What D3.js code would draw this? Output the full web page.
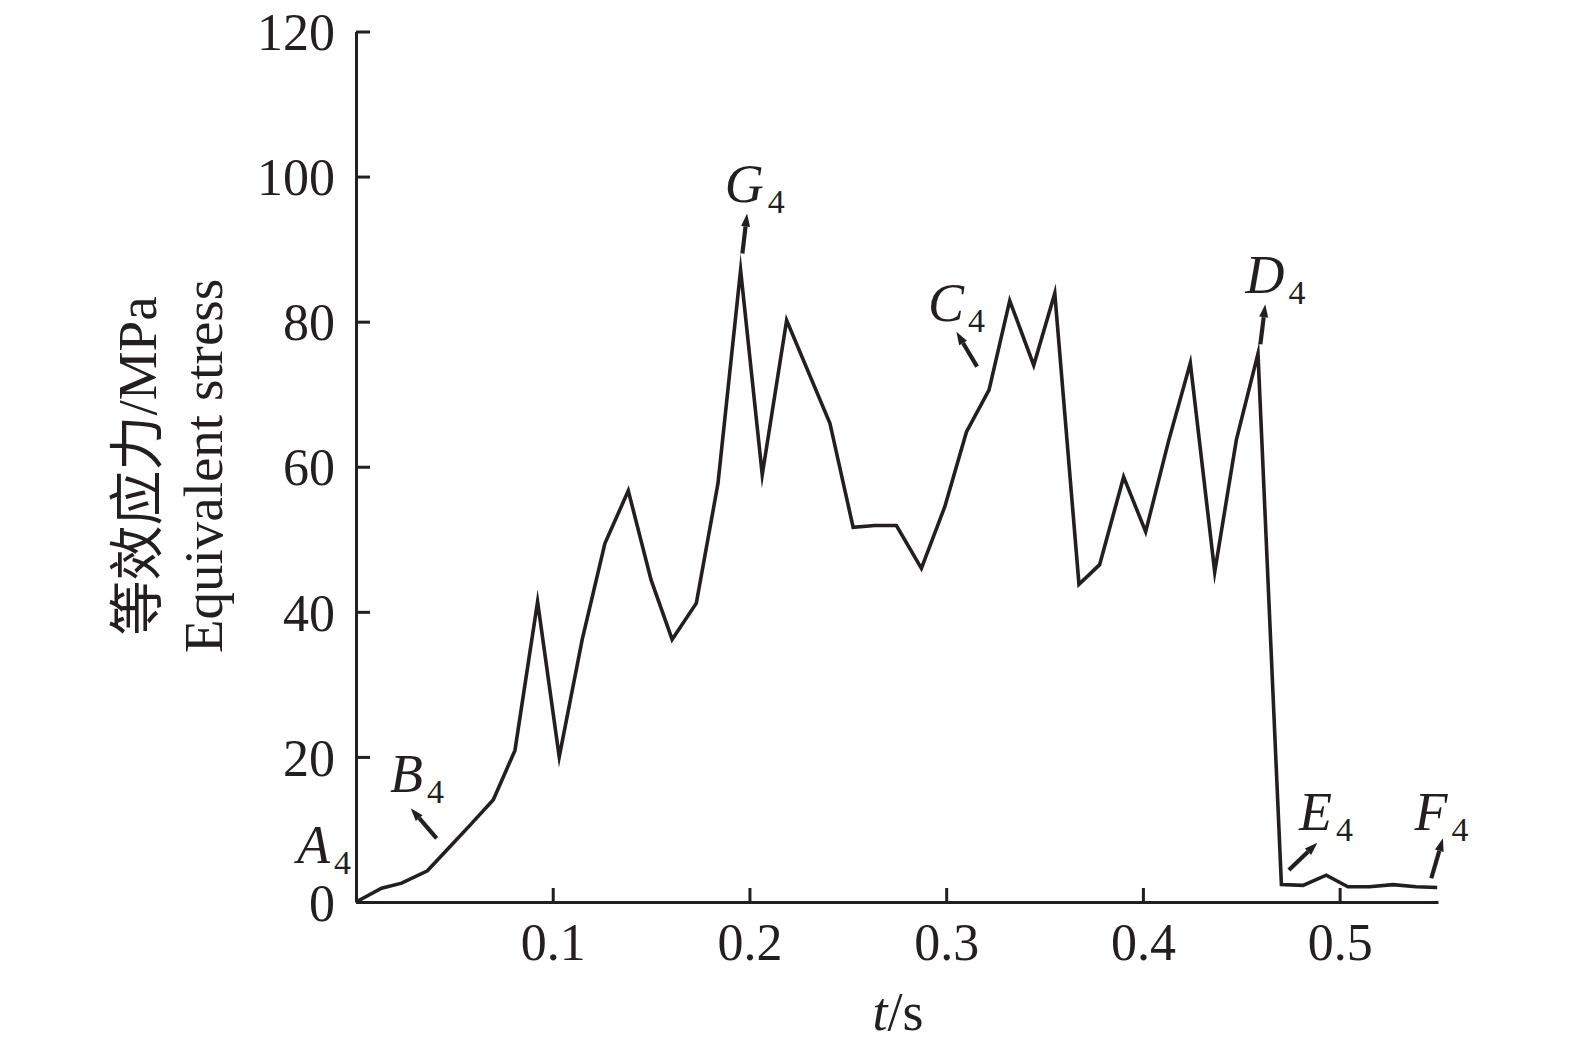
<!DOCTYPE html>
<html>
<head>
<meta charset="utf-8">
<script src="https://cdn.jsdelivr.net/npm/d3@7"></script>
<style>
  html, body { margin: 0; padding: 0; background: #ffffff; }
  svg { display: block; }
  text { font-family: "Liberation Serif", "Noto Sans CJK SC", serif; fill: #231f20; }
</style>
</head>
<body>
<svg id="chart" width="1575" height="1048"></svg>
<script>
// ---- data ----
const times = [0, 0.013, 0.0232, 0.0363, 0.047, 0.058, 0.0698, 0.0808, 0.0923, 0.1033,
  0.1150, 0.1265, 0.1384, 0.1500, 0.1607, 0.1730, 0.1840, 0.1955, 0.2065, 0.2189,
  0.2409, 0.2527, 0.2637, 0.2747, 0.2874, 0.2993, 0.3103, 0.3218, 0.3323, 0.3445,
  0.3552, 0.3675, 0.3780, 0.3902, 0.4014, 0.4130, 0.4241, 0.4365, 0.4475, 0.4585,
  0.4704, 0.4814, 0.4932, 0.5042, 0.5152, 0.5271, 0.5389, 0.5496];
const stress = [0, 1.9, 2.6, 4.3, 7.4, 10.6, 14.1, 20.9, 41.4, 20.0,
  36.2, 49.4, 56.7, 44.4, 36.2, 41.2, 57.7, 87.1, 58.9, 80.2,
  66.0, 51.65, 51.9, 51.9, 46.0, 54.5, 64.8, 70.6, 82.9, 74.0,
  83.9, 43.8, 46.5, 58.6, 51.05, 63.5, 74.3, 45.5, 63.7, 75.6,
  2.4, 2.3, 3.7, 2.1, 2.1, 2.4, 2.1, 2.0];
const xTicks = [0.1, 0.2, 0.3, 0.4, 0.5];
const xTickLabels = ["0.1", "0.2", "0.3", "0.4", "0.5"];
const yTicks = [0, 20, 40, 60, 80, 100, 120];
const yTickLabels = ["0", "20", "40", "60", "80", "100", "120"];
const xTitleItalic = "t";
const xTitleRest = "/s";
const yTitleLines = ["等效应力/MPa", "Equivalent stress"];
// annotation labels: letter, label anchor (t, value), arrow tail (t, value), arrow head (t, value)
const markLetters = ["A", "B", "G", "C", "D", "E", "F"];
const markSub = "4";
const markLabelT = [-0.0300, 0.0173, 0.1874, 0.2908, 0.4522, 0.4793, 0.5381];
const markLabelV = [5.4, 15.2, 96.5, 80.1, 84.0, 9.93, 9.93];
const arrowTailT = [null, 0.0410, 0.1964, 0.3157, 0.4597, 0.4742, 0.5466];
const arrowTailV = [null, 8.78, 89.4, 73.8, 76.9, 4.41, 3.27];
const arrowHeadT = [null, 0.0278, 0.1988, 0.3052, 0.4622, 0.4887, 0.5525];
const arrowHeadV = [null, 12.92, 94.9, 78.6, 82.4, 8.17, 8.78];

// ---- layout ----
const svg = d3.select("#chart");
const ink = "#231f20";
const x = d3.scaleLinear().domain([0, 0.55]).range([356, 1438]);
const y = d3.scaleLinear().domain([0, 120]).range([902, 31.5]);

// axes
const xAxis = d3.axisBottom(x).tickValues(xTicks)
  .tickFormat((d, i) => xTickLabels[i])
  .tickSizeInner(-14).tickSizeOuter(0).tickPadding(21);
const yAxis = d3.axisLeft(y).tickValues(yTicks)
  .tickFormat((d, i) => yTickLabels[i])
  .tickSizeInner(-14).tickSizeOuter(0).tickPadding(21);

const gx = svg.append("g").attr("transform", `translate(0,${y(0)})`).call(xAxis);
const gy = svg.append("g").attr("transform", `translate(${x(0)},0)`).call(yAxis);
[gx, gy].forEach(g => {
  g.select(".domain").attr("stroke", ink).attr("stroke-width", 3);
  g.selectAll(".tick line").attr("stroke", ink).attr("stroke-width", 3);
  g.selectAll(".tick text").attr("fill", ink)
    .style("font-family", "'Liberation Serif', serif").style("font-size", "52px");
});
gy.selectAll(".tick text").attr("dy", "0.35em");

// line
const line = d3.line().x((d, i) => x(times[i])).y((d, i) => y(stress[i]));
svg.append("path").datum(stress)
  .attr("d", line).attr("fill", "none")
  .attr("stroke", ink).attr("stroke-width", 3.6)
  .attr("stroke-linejoin", "miter").attr("stroke-miterlimit", 10);

// annotation arrows
markLetters.forEach((L, i) => {
  if (arrowTailT[i] === null) return;
  const x1 = x(arrowTailT[i]), y1 = y(arrowTailV[i]);
  const x2 = x(arrowHeadT[i]), y2 = y(arrowHeadV[i]);
  const ang = Math.atan2(y2 - y1, x2 - x1);
  const headLen = 13, headW = 4.5;
  const bx = x2 - headLen * Math.cos(ang), by = y2 - headLen * Math.sin(ang);
  svg.append("line").attr("x1", x1).attr("y1", y1).attr("x2", bx).attr("y2", by)
    .attr("stroke", ink).attr("stroke-width", 4.2);
  const px = -Math.sin(ang), py = Math.cos(ang);
  svg.append("path")
    .attr("d", `M${x2},${y2}L${bx + px * headW},${by + py * headW}L${bx - px * headW},${by - py * headW}Z`)
    .attr("fill", ink);
});

// annotation labels
markLetters.forEach((L, i) => {
  const t = svg.append("text")
    .attr("x", x(markLabelT[i])).attr("y", y(markLabelV[i]))
    .style("font-size", "54px");
  t.append("tspan").style("font-style", "italic").text(L);
  t.append("tspan").attr("dx", 4).attr("dy", 11).style("font-size", "34px").text(markSub);
});

// x title
const xt = svg.append("text").attr("x", 898).attr("y", 1030)
  .attr("text-anchor", "middle").style("font-size", "54px");
xt.append("tspan").style("font-style", "italic").text(xTitleItalic);
xt.append("tspan").text(xTitleRest);

// y title (two rotated lines)
const yTitleX = [156, 222];
yTitleLines.forEach((s, i) => {
  svg.append("text")
    .attr("transform", `translate(${yTitleX[i]},466) rotate(-90)`)
    .attr("text-anchor", "middle")
    .style("font-size", "55px")
    .text(s);
});
</script>
</body>
</html>
